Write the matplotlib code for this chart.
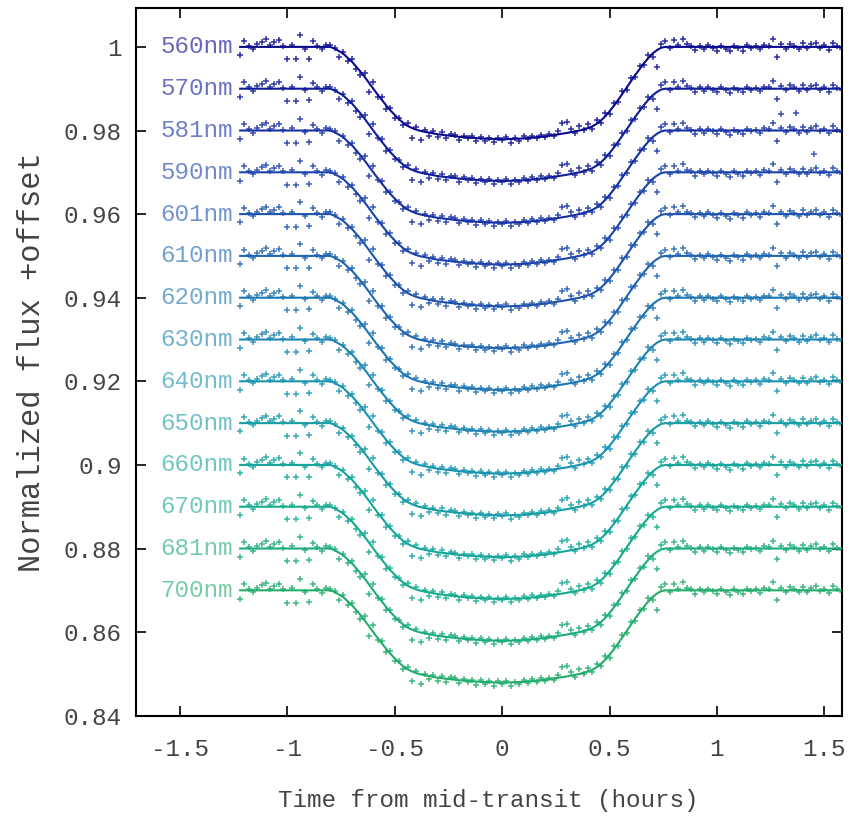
import numpy as np
import matplotlib
matplotlib.use("Agg")
import matplotlib.pyplot as plt
from matplotlib.colors import LinearSegmentedColormap, to_rgb
from matplotlib.ticker import FuncFormatter, MultipleLocator

# wavelength channels, each shifted down by 0.01 in the plot
wavelengths = ["560nm", "570nm", "581nm", "590nm", "601nm", "610nm", "620nm",
               "630nm", "640nm", "650nm", "660nm", "670nm", "681nm", "700nm"]
offsets = [0.0, -0.01, -0.02, -0.03, -0.04, -0.05, -0.06,
           -0.07, -0.08, -0.09, -0.10, -0.11, -0.12, -0.13]

t_start, t_end = -1.22, 1.60
flux_ppt = [
    -2.0, 1.5, 0.3, -0.5, 0.6, 1.2, 1.8, 0.4, 1.1, 1.6, 0.2, -3.0, 0.5, -3.0,
    2.8, -0.4, -2.8, 1.4, 0.3, -0.6, 0.5, 0.4,
    -0.2, -2.4, -1.2, -3.4, -3.0, -5.3, -6.8, -6.2, -10.9, -8.4, -11.9, -12.1,
    -14.8, -14.6, -16.9, -17.0, -18.8, -18.3, -21.8, -19.2,
    -22.3, -19.9, -21.3, -20.2, -21.6, -20.4, -21.9, -20.8, -21.0, -22.2,
    -21.2, -21.9, -21.4, -22.6, -21.5, -22.4, -21.7, -22.8, -21.8, -22.3,
    -21.6, -22.9, -21.9, -22.4, -21.4, -22.1, -21.2, -21.9, -21.0, -21.6,
    -20.9, -21.4, -20.2, -18.3, -18.0, -19.6, -20.7, -18.9, -19.9,
    -18.5, -19.6, -17.6, -18.2, -15.8, -16.1, -13.4, -13.3, -10.6, -10.2,
    -7.5, -7.3, -4.6, -4.4, -1.9, -2.4, -4.8, 0.8, 1.5,
    -0.3, 1.6, 0.4, 1.9, 0.6, 0.2, -0.8, 0.3, -0.5, 0.4, -0.2, -0.9, 0.3,
    -0.4, -1.1, 0.2, -0.3, -0.9, 0.4, -0.2, 0.2, -0.6, 0.5, 0.3, 1.9, -2.4,
    0.6, -0.4, 0.8, 0.3, -0.5, 0.9, -0.3, 0.6, 1.0, -0.2, 0.4, -0.7, 1.0,
    0.2, -0.4, 0.5,
]

# fitted transit model (ppt), knots
model_t = [-1.22, -0.80, -0.78, -0.76, -0.74, -0.72, -0.70, -0.68, -0.66,
           -0.64, -0.62, -0.60, -0.58, -0.56, -0.54, -0.52, -0.50, -0.48,
           -0.46, -0.44, -0.42, -0.40, -0.38, -0.35, -0.30, -0.20, -0.10,
           0.00, 0.10, 0.20, 0.30, 0.36, 0.40, 0.42, 0.44, 0.46, 0.48, 0.50,
           0.52, 0.54, 0.56, 0.58, 0.60, 0.62, 0.64, 0.66, 0.68, 0.70, 0.72,
           0.74, 0.76, 1.60]
model_ppt = [0.0, 0.0, -0.4, -1.0, -1.6, -2.6, -3.5, -4.7, -5.9, -7.2, -8.6,
             -10.0, -11.4, -12.7, -14.0, -15.2, -16.3, -17.3, -18.2, -18.9,
             -19.4, -19.8, -20.1, -20.4, -20.9, -21.5, -21.9, -22.1, -21.9,
             -21.4, -20.6, -20.0, -19.4, -19.0, -18.4, -17.6, -16.6, -15.4,
             -14.1, -12.7, -11.2, -9.7, -8.2, -6.7, -5.3, -3.9, -2.7, -1.6,
             -0.8, -0.2, 0.0, 0.0]

# a few stray points that only show up in single channels
extra_band = [2, 2, 3]
extra_t = [1.30, 1.37, 1.45]
extra_ppt = [4.0, 4.2, 4.3]

xticks = [-1.5, -1.0, -0.5, 0.0, 0.5, 1.0, 1.5]

plt.rcParams['font.family'] = ['Liberation Mono', 'DejaVu Sans Mono']

cmap = LinearSegmentedColormap.from_list(
    "bands", ["#0a0a90", "#1a3caa", "#1f68b2", "#1a92b2", "#12aa98", "#22ad6c"])

fig = plt.figure(figsize=(8.54, 8.19), dpi=100)
ax = fig.add_axes([0.1587, 0.1261, 0.8267, 0.8641])

t_obs = np.linspace(t_start, t_end, len(flux_ppt))
flux = 1 + np.array(flux_ppt) / 1000.0
model = 1 + np.array(model_ppt) / 1000.0

n = len(wavelengths)
for i, (wl, off) in enumerate(zip(wavelengths, offsets)):
    c = np.array(cmap(i / (n - 1))[:3])
    ax.plot(model_t, model + off, color=c, lw=1.5, zorder=3)
    ax.plot(t_obs, flux + off, ls='none', marker='+', ms=4.5, mew=1.1,
            color=c, alpha=0.85, zorder=2)
    for b, tx, px in zip(extra_band, extra_t, extra_ppt):
        if b == i:
            ax.plot(tx, 1 + px / 1000.0 + off, ls='none', marker='+', ms=4.5,
                    mew=1.1, color=c, alpha=0.85)
    lab = 0.62 * c + 0.38 * np.array(to_rgb("white"))
    ax.text(-1.255, 1 + off, wl, ha='right', va='center', fontsize=17.5,
            color=lab)

ax.set_xlim(-1.707, 1.58)
ax.set_ylim(0.84, 1.0093)
ax.set_xticks(xticks)
ax.yaxis.set_major_locator(MultipleLocator(0.02))
ax.xaxis.set_major_formatter(FuncFormatter(lambda v, p: f"{v:g}"))
ax.yaxis.set_major_formatter(FuncFormatter(lambda v, p: f"{round(v, 4):g}"))
ax.tick_params(direction='in', length=7, width=1.2, top=True, right=True,
               labelsize=17.5, labelcolor='#444444')
ax.tick_params(axis='x', pad=16)
ax.tick_params(axis='y', pad=10)
for s in ax.spines.values():
    s.set_linewidth(1.5)

ax.set_xlabel("Time from mid-transit (hours)", fontsize=17.5, color='#444444',
              labelpad=20)
ax.set_ylabel("Normalized flux +offset", fontsize=22, color='#444444',
              labelpad=12)

fig.savefig("out.png", dpi=100)
